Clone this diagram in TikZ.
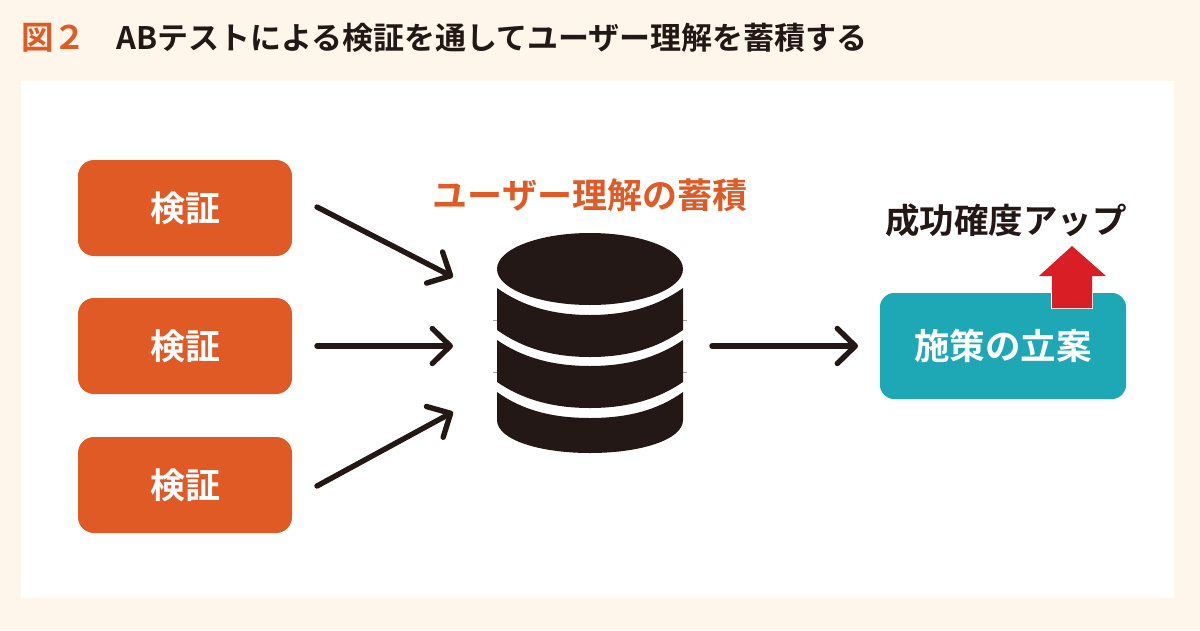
\documentclass[tikz,border=0pt]{standalone}
\usepackage{fontspec}
\usetikzlibrary{arrows.meta}
\setmainfont{Noto Sans CJK JP}[BoldFont={Noto Sans CJK JP Bold}]
\definecolor{pagebg}{HTML}{FEF6EA}
\definecolor{orangec}{HTML}{E05A26}
\definecolor{tealc}{HTML}{1EA7B5}
\definecolor{darkc}{HTML}{231815}
\definecolor{redc}{HTML}{D91E26}
\newcommand{\fs}[1]{\fontsize{#1pt}{#1pt}\selectfont}
\newcommand{\dbband}[4]{%
  \fill[darkc] (497,#1) .. controls (522,{#1+0.66*(#2-#1)}) and (552,#2) .. (590,#2)
    .. controls (628,#2) and (658,{#1+0.66*(#2-#1)}) .. (683,#1)
    -- (683,#3) .. controls (658,{#3+0.66*(#4-#3)}) and (628,#4) .. (590,#4)
    .. controls (552,#4) and (522,{#3+0.66*(#4-#3)}) .. (497,#3) -- cycle;}
\tikzset{
  x=1pt,y=-1pt,
  checkbox/.style={fill=orangec,rounded corners=16pt,minimum width=214pt,minimum height=96pt,inner sep=0pt,
     text=white,font=\fs{35}\bfseries},
  planbox/.style={fill=tealc,rounded corners=14pt,minimum width=246pt,minimum height=106pt,inner sep=0pt,
     text=white,font=\fs{35.5}\bfseries},
  flow/.style={draw=darkc,line width=5.4pt,line cap=round,line join=miter,
     -{Straight Barb[length=18pt,width=35pt,round]}},
  hairline/.style={draw=black!35,line width=0.4pt},
  titletext/.style={anchor=west,inner sep=0pt,font=\fs{31}\bfseries},
  labeltext/.style={inner sep=0pt,font=\fs{35}\bfseries},
}
\begin{document}
\begin{tikzpicture}
\useasboundingbox (0,0) rectangle (1200,630);
\fill[pagebg] (0,0) rectangle (1200,630);
\fill[white] (21,81) rectangle (1174,598);
\node[titletext,text=orangec,font=\fs{32.5}\bfseries] (fig) at (21,38) {図２};
\node[titletext,text=darkc] (title) at (116,38) {ABテストによる検証を通してユーザー理解を蓄積する};
\node[checkbox] (v1) at (185,208) {検証};
\node[checkbox] (v2) at (185,346) {検証};
\node[checkbox] (v3) at (185,485) {検証};
\node[labeltext,text=orangec] (accum) at (590,195) {ユーザー理解の蓄積};
\node[labeltext,text=darkc,font=\fs{34.5}\bfseries] (up) at (1006,220) {成功確度アップ};
\node[planbox] (plan) at (1003,346) {施策の立案};
% database
\draw[hairline] (493,320.5) -- (687,320.5);
\draw[hairline] (493,372) -- (687,372);
\dbband{288}{315}{330}{357}
\dbband{340}{366}{382}{408}
\fill[darkc] (497,392) .. controls (522,410) and (552,418) .. (590,418)
   .. controls (628,418) and (658,410) .. (683,392)
   -- (683,420) .. controls (683,440) and (640,453) .. (590,453)
   .. controls (540,453) and (497,440) .. (497,420) -- cycle;
\fill[darkc] (590,269) ellipse[x radius=93pt,y radius=36pt];
% arrows
\coordinate (s1) at (317,207); \coordinate (t1) at (453,277);
\coordinate (s2) at (317,346); \coordinate (t2) at (453,346);
\coordinate (s3) at (317,486); \coordinate (t3) at (453,412);
\coordinate (s4) at (712,346); \coordinate (t4) at (858,346);
\draw[flow] (s1) -- (t1);
\draw[flow] (s2) -- (t2);
\draw[flow] (s3) -- (t3);
\draw[flow] (s4) -- (t4);
% up arrow
\fill[white] (1051,293) rectangle (1093,309);
\fill[redc] (1072,246) -- (1106,276) -- (1092,276) -- (1092,308) -- (1052,308) -- (1052,276) -- (1039,276) -- cycle;
\end{tikzpicture}
\end{document}
